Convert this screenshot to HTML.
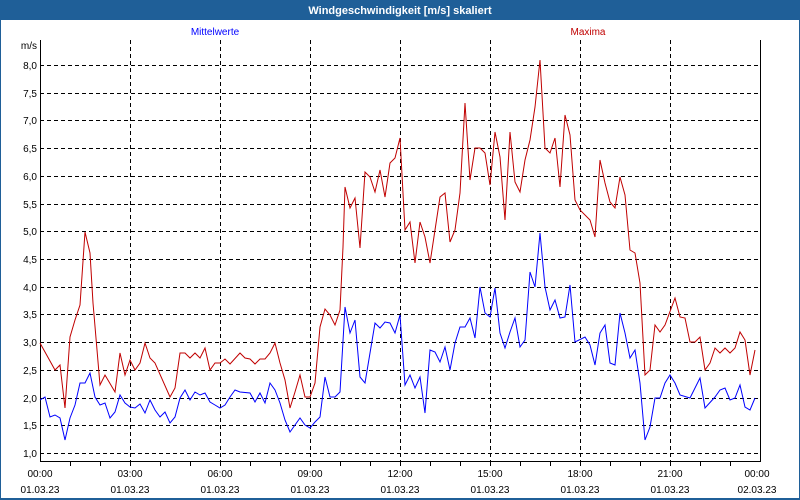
<!DOCTYPE html>
<html><head><meta charset="utf-8"><style>
body{margin:0;background:#fff}
svg{display:block;font-family:"Liberation Sans",sans-serif}
</style></head><body>
<svg width="800" height="500" viewBox="0 0 800 500" xmlns="http://www.w3.org/2000/svg">
<rect x="0" y="0" width="800" height="500" fill="#1f5f98"/>
<rect x="1" y="20" width="798" height="478" fill="#fff"/>
<text x="400" y="14" fill="#fff" font-size="11" font-weight="bold" text-anchor="middle">Windgeschwindigkeit [m/s] skaliert</text>
<text x="215" y="35" fill="#0000ff" font-size="10" text-anchor="middle">Mittelwerte</text>
<text x="588" y="35" fill="#c00000" font-size="10" text-anchor="middle">Maxima</text>
<text x="37" y="49" font-size="10" text-anchor="end">m/s</text>
<g stroke="#000" stroke-width="1" stroke-dasharray="4,3" shape-rendering="crispEdges">
<path d="M40 65.5H760M40 93.5H760M40 120.5H760M40 148.5H760M40 176.5H760M40 204.5H760M40 231.5H760M40 259.5H760M40 287.5H760M40 314.5H760M40 342.5H760M40 370.5H760M40 398.5H760M40 425.5H760M40 453.5H760"/>
<path d="M130.5 40V461M220.5 40V461M310.5 40V461M400.5 40V461M490.5 40V461M580.5 40V461M670.5 40V461"/>
</g>
<g stroke="#000" stroke-width="1" shape-rendering="crispEdges" fill="none">
<path d="M40.5 40V461.5H760.5V40"/>
<path d="M70.5 461v5M100.5 461v5M130.5 461v5M160.5 461v5M190.5 461v5M220.5 461v5M250.5 461v5M280.5 461v5M310.5 461v5M340.5 461v5M370.5 461v5M400.5 461v5M430.5 461v5M460.5 461v5M490.5 461v5M520.5 461v5M550.5 461v5M580.5 461v5M610.5 461v5M640.5 461v5M670.5 461v5M700.5 461v5M730.5 461v5"/>
</g>
<g font-size="10" text-anchor="end">
<text x="37" y="69">8,0</text><text x="37" y="97">7,5</text><text x="37" y="124">7,0</text><text x="37" y="152">6,5</text><text x="37" y="180">6,0</text><text x="37" y="208">5,5</text><text x="37" y="235">5,0</text><text x="37" y="263">4,5</text><text x="37" y="291">4,0</text><text x="37" y="318">3,5</text><text x="37" y="346">3,0</text><text x="37" y="374">2,5</text><text x="37" y="402">2,0</text><text x="37" y="429">1,5</text><text x="37" y="457">1,0</text>
</g>
<g font-size="10" text-anchor="middle">
<text x="40" y="477">00:00</text><text x="40" y="493">01.03.23</text>
<text x="130" y="477">03:00</text><text x="130" y="493">01.03.23</text>
<text x="220" y="477">06:00</text><text x="220" y="493">01.03.23</text>
<text x="310" y="477">09:00</text><text x="310" y="493">01.03.23</text>
<text x="400" y="477">12:00</text><text x="400" y="493">01.03.23</text>
<text x="490" y="477">15:00</text><text x="490" y="493">01.03.23</text>
<text x="580" y="477">18:00</text><text x="580" y="493">01.03.23</text>
<text x="670" y="477">21:00</text><text x="670" y="493">01.03.23</text>
<text x="757" y="477">00:00</text><text x="757" y="493">02.03.23</text>
</g>
<polyline fill="none" stroke="#c00000" stroke-width="1" points="40,343 55,370 60,365 65,408 70,337 75,320 80,305 85,232 90,253 93,303 100,385 105,375 115,392 120,353 125,375 130,360 135,370 140,363 145,343 150,358 155,363 170,397 175,388 180,353 185,353 190,358 195,353 200,358 205,348 210,370 215,363 220,363 225,359 230,364 240,353 245,358 250,359 255,364 260,359 265,359 270,353 275,343 280,363 285,380 290,408 295,392 300,375 305,397 310,397 315,383 320,327 325,309 330,315 335,325 340,310 343,247 345,187 350,208 355,198 360,248 365,172 370,177 375,192 380,170 385,197 390,163 395,158 400,138 405,230 410,222 415,263 420,222 425,237 430,263 435,230 440,197 445,193 450,242 455,230 460,193 465,103 470,180 475,148 480,148 485,153 490,185 495,132 500,157 505,220 510,132 515,182 520,192 525,160 530,140 535,107 540,60 545,148 550,153 555,138 560,187 565,115 570,135 575,200 580,210 590,220 595,237 600,160 605,183 610,202 615,208 620,177 625,195 630,250 635,253 640,283 645,375 650,370 655,325 660,332 665,325 675,298 680,317 685,318 690,342 695,342 700,337 705,370 710,363 715,348 720,353 725,348 730,353 735,348 740,332 745,340 750,375 755,350"/>
<polyline fill="none" stroke="#0000ff" stroke-width="1" points="40,400 45,397 50,417 55,415 60,418 65,440 70,418 75,405 80,383 85,383 90,373 95,397 100,405 105,403 110,418 115,412 120,395 125,403 130,407 135,408 140,404 145,413 150,400 155,410 160,417 165,412 170,423 175,417 180,398 185,390 190,400 195,392 200,395 205,393 210,402 215,405 220,408 225,405 230,397 235,390 240,392 250,393 255,402 260,393 265,403 270,383 275,390 280,403 285,420 290,432 300,418 305,425 310,428 315,422 320,417 325,377 330,397 335,397 340,392 345,307 350,333 355,320 360,377 365,383 370,353 375,323 380,328 385,322 390,323 395,333 400,315 405,385 410,375 415,388 420,377 425,413 430,350 435,352 440,362 445,347 450,370 455,343 460,327 465,327 470,318 475,338 480,287 485,313 490,317 495,288 500,333 505,348 510,332 515,318 520,347 525,340 530,272 535,287 540,233 545,287 550,310 555,300 560,318 565,317 570,285 575,342 585,337 590,345 595,365 600,333 605,325 610,363 615,365 620,313 625,333 630,358 635,350 640,383 645,440 650,427 655,398 660,398 665,383 670,375 675,383 680,395 690,398 700,378 705,408 715,397 720,390 725,388 730,400 735,398 740,385 745,407 750,410 755,398"/>
</svg>
</body></html>
